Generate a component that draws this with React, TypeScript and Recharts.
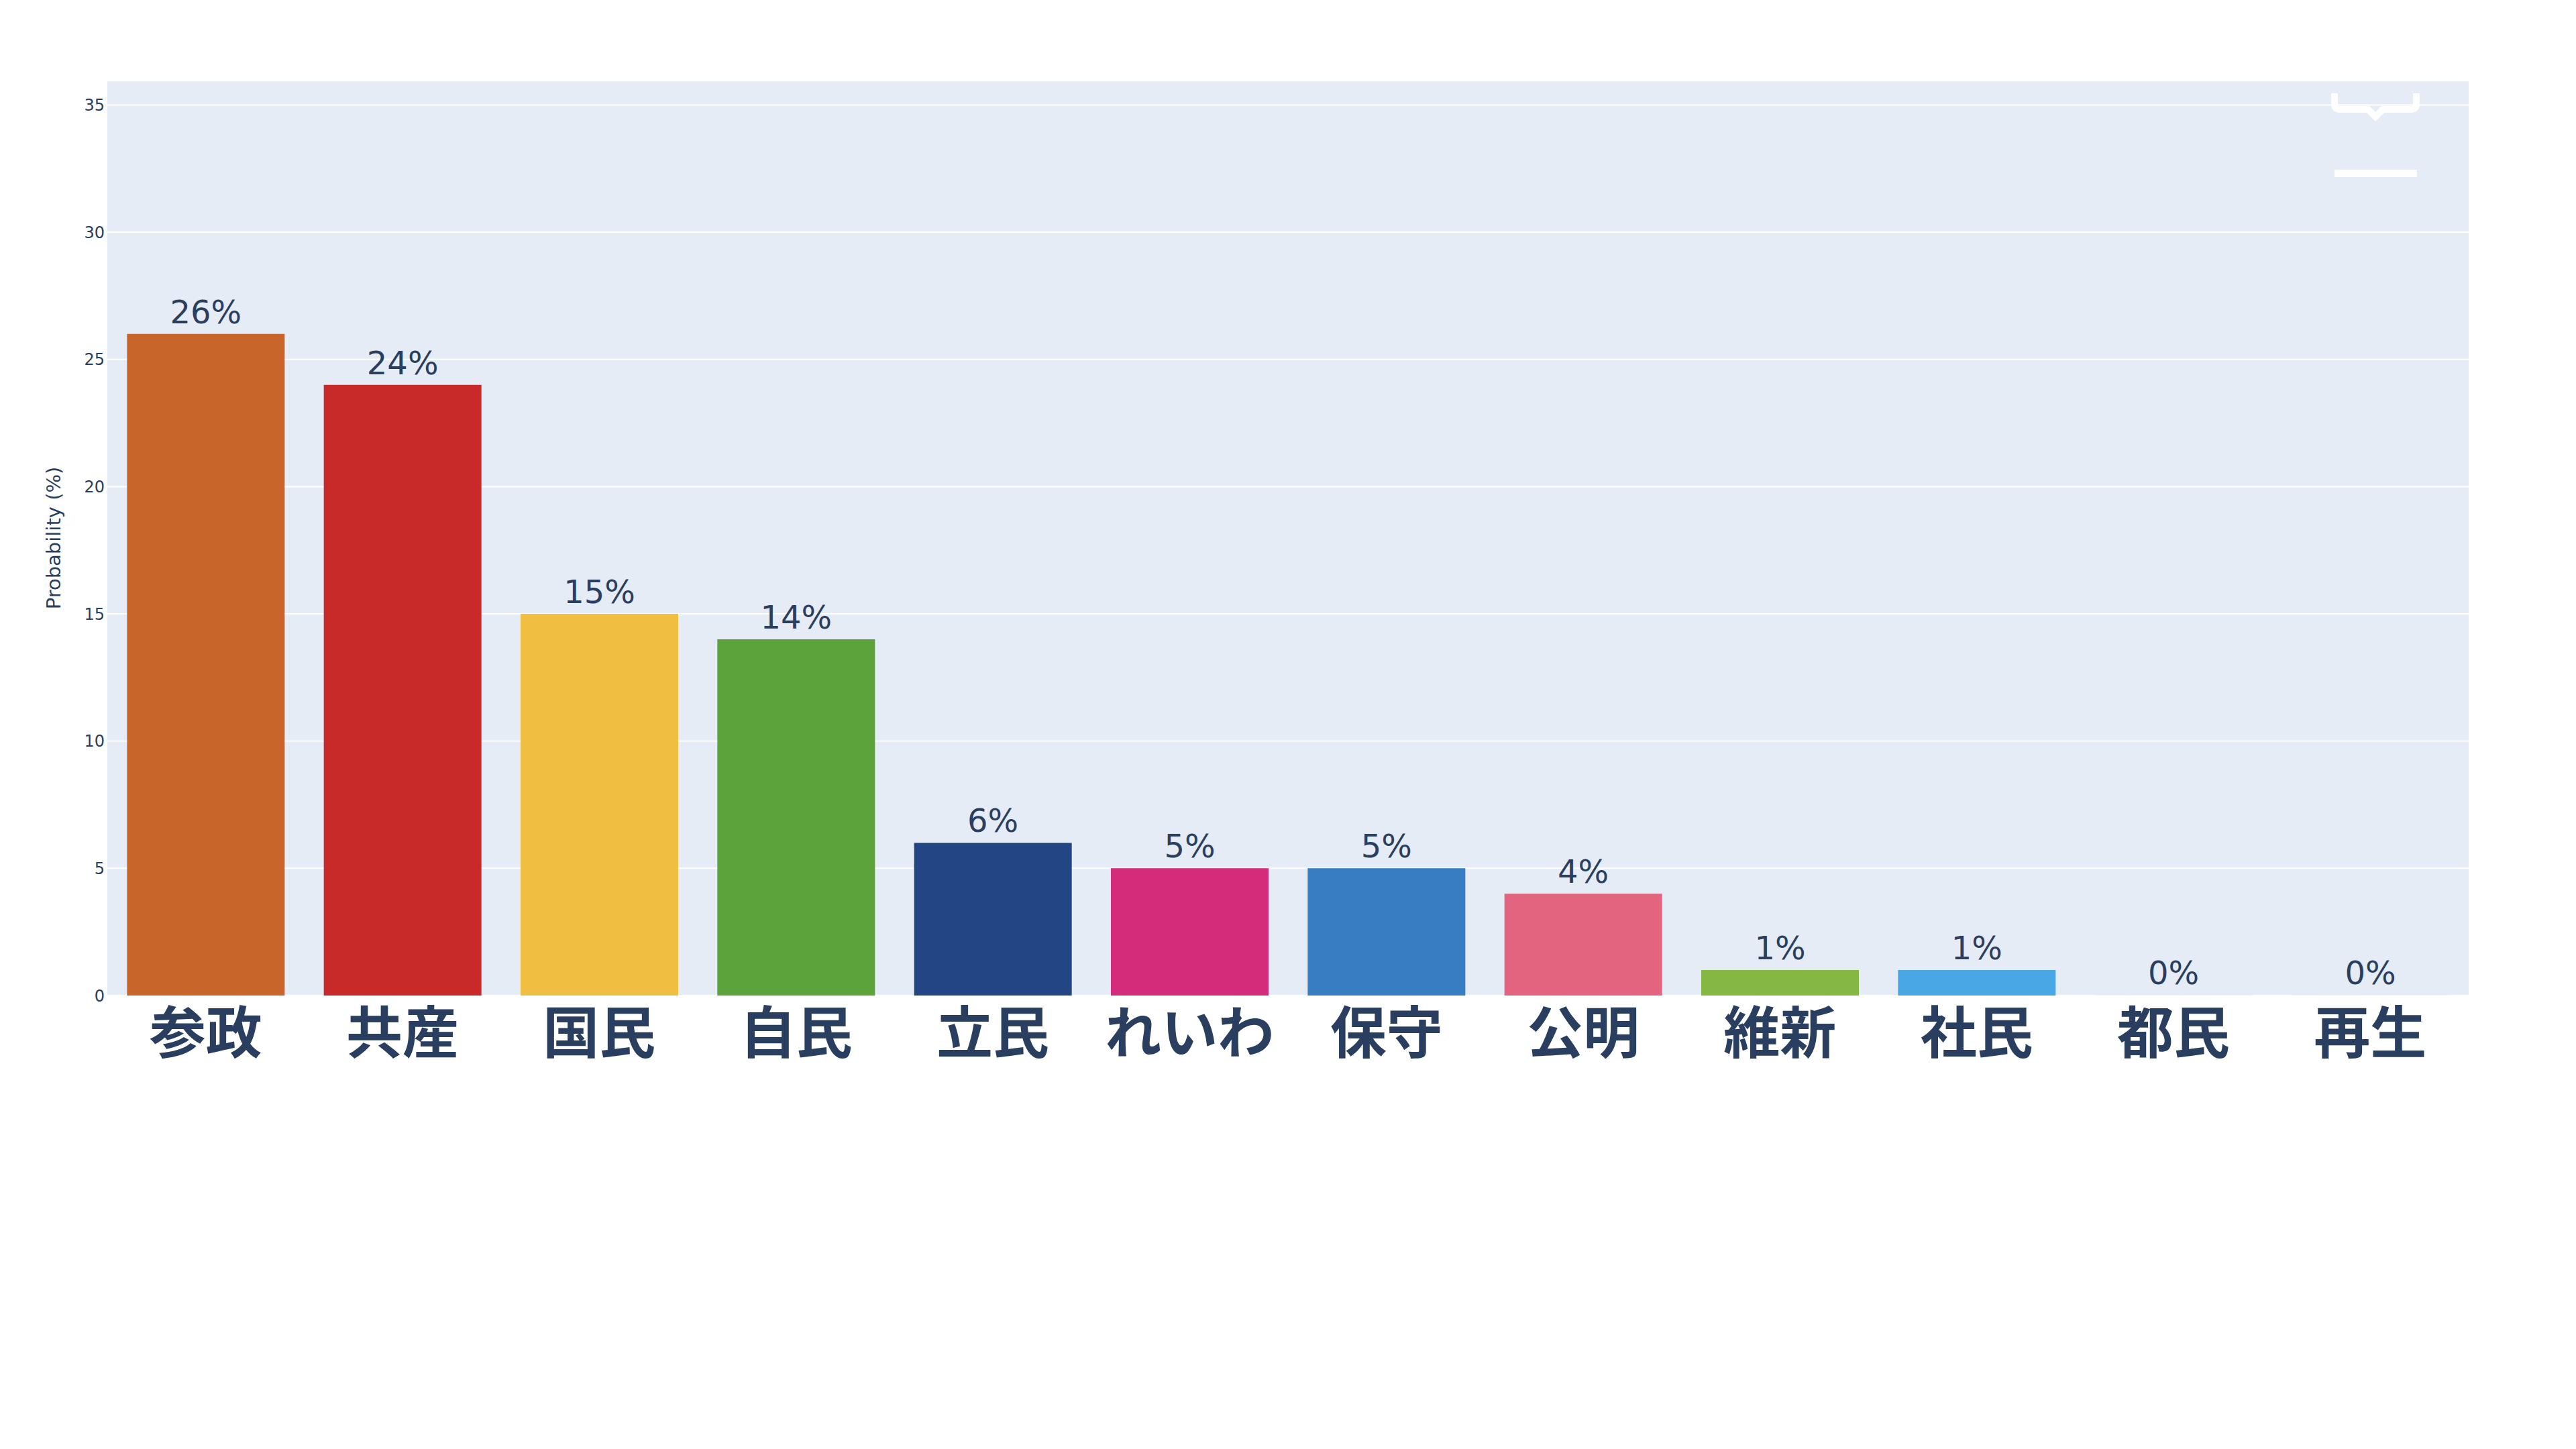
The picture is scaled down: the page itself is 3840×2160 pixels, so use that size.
import React from "react";
import {
  BarChart,
  Bar,
  XAxis,
  YAxis,
  CartesianGrid,
  Cell,
  LabelList,
} from "recharts";

const parties = ["参政", "共産", "国民", "自民", "立民", "れいわ", "保守", "公明", "維新", "社民", "都民", "再生"];
const probability = [26, 24, 15, 14, 6, 5, 5, 4, 1, 1, 0, 0];
// the last two have no visible bar in the source, so they blend with the zero line
const partyColors = [
  "#c8652a",
  "#c82a2a",
  "#f0be41",
  "#5ba33a",
  "#234584",
  "#d42c7b",
  "#367dc2",
  "#e3647f",
  "#84b843",
  "#4aa7e6",
  "#eef2f9",
  "#eef2f9",
];
const yTicks = [0, 5, 10, 15, 20, 25, 30, 35];

const TEXT = "#2a3f5f";
const FONT = "'DejaVu Sans', verdana, sans-serif";

const data = parties.map((name, i) => ({ name, value: probability[i] }));

function YTitle({ viewBox }: any) {
  const x = viewBox.x + 80;
  const y = viewBox.y + viewBox.height / 2;
  return (
    <text
      x={x}
      y={y}
      transform={`rotate(-90 ${x} ${y})`}
      textAnchor="middle"
      dominantBaseline="central"
      fontSize={29}
      fontFamily={FONT}
      fill={TEXT}
    >
      Probability (%)
    </text>
  );
}

// value above each bar, zero bars included
function ValueLabel(props: any) {
  const { x, y, width, value } = props;
  return (
    <text
      x={Number(x) + Number(width) / 2}
      y={Number(y) - 16}
      textAnchor="middle"
      fontSize={48}
      fontFamily={FONT}
      fill={TEXT}
    >
      {`${value}%`}
    </text>
  );
}

export default function App() {
  return (
    <div style={{ position: "fixed", left: 0, top: 0, width: 3840, height: 2160, background: "#fff" }}>
      <BarChart
        width={3840}
        height={2160}
        data={data}
        margin={{ top: 120, right: 160, left: 0, bottom: 0 }}
        barCategoryGap="10%"
      >
        <CartesianGrid
          vertical={false}
          fill="#e5ecf6"
          fillOpacity={1}
          stroke="#ffffff"
          strokeWidth={2}
        />
        <XAxis
          dataKey="name"
          height={676}
          axisLine={false}
          tickLine={false}
          tickSize={0}
          tickMargin={26}
          interval={0}
          tick={{
            fontSize: 84,
            fontWeight: 700,
            fill: TEXT,
            fontFamily: "'Noto Sans CJK JP', sans-serif",
          }}
        />
        <YAxis
          width={160}
          domain={[0, 35.96]}
          ticks={yTicks}
          axisLine={false}
          tickLine={false}
          tickSize={0}
          tickMargin={4}
          tick={{ fontSize: 24, fill: TEXT, fontFamily: FONT }}
          label={<YTitle />}
        />
        <Bar dataKey="value" isAnimationActive={false} minPointSize={1}>
          {data.map((_, i) => (
            <Cell key={i} fill={partyColors[i]} />
          ))}
          <LabelList dataKey="value" content={<ValueLabel />} />
        </Bar>
      </BarChart>
      <svg
        width={3840}
        height={2160}
        style={{ position: "absolute", left: 0, top: 0, pointerEvents: "none" }}
      >
        <path
          d="M3480 139 V155 Q3480 163 3488 163 H3530 L3541 174 L3552 163 H3594 Q3602 163 3602 155 V139"
          stroke="#ffffff"
          strokeWidth={10}
          fill="none"
        />
        <rect x={3480} y={253} width={123} height={11} fill="#ffffff" />
      </svg>
    </div>
  );
}
